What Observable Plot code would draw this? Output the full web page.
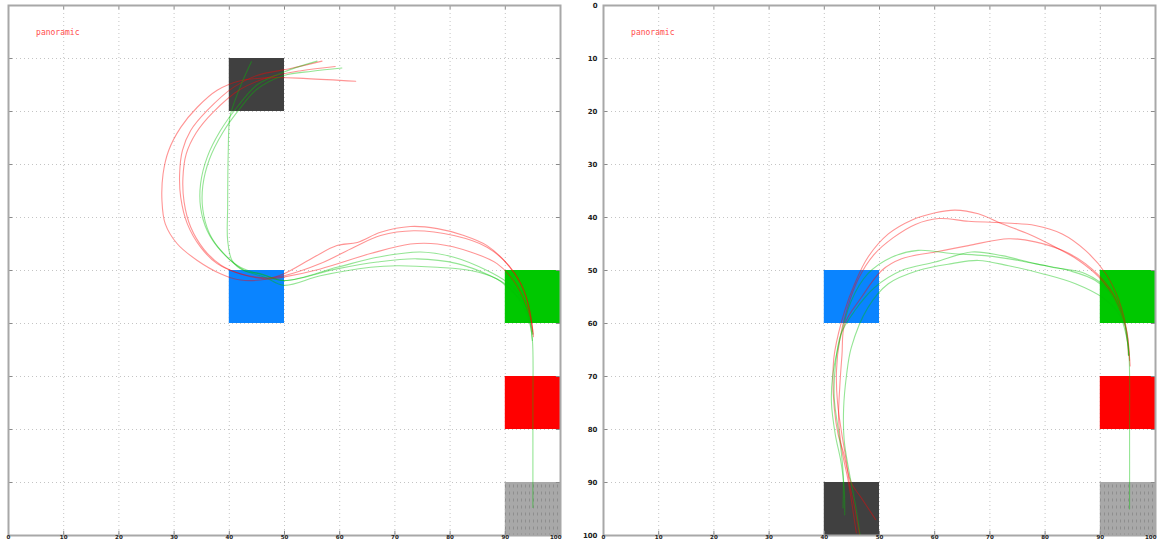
<!DOCTYPE html>
<html>
<head>
<meta charset="utf-8">
<script src="https://cdn.jsdelivr.net/npm/d3@7"></script>
<script src="https://cdn.jsdelivr.net/npm/@observablehq/plot@0.6"></script>
<style>
  html, body { margin: 0; padding: 0; background: #fff; overflow: hidden; width: 1157px; height: 542px; }
  .panel { position: absolute; top: 0; width: 600px; }
  .panel svg { max-width: none !important; }
</style>
</head>
<body>
<!-- shared fill pattern for the dotted grey goal zone -->
<svg width="0" height="0" style="position:absolute">
  <defs>
    <pattern id="zoneDots" width="4" height="7" patternUnits="userSpaceOnUse">
      <rect width="4" height="7" fill="#a8a8a8"></rect>
      <line x1="1.5" y1="1.5" x2="1.5" y2="4.5" stroke="#8e8e8e" stroke-width="1"></line>
    </pattern>
  </defs>
</svg>
<div id="left" class="panel" style="left:-32px"></div>
<div id="right" class="panel" style="left:563px"></div>
<script>
// axis ticks shared by both panels
const xTicks = [0, 10, 20, 30, 40, 50, 60, 70, 80, 90, 100];
const yTicks = [0, 10, 20, 30, 40, 50, 60, 70, 80, 90, 100];
const panelLabel = "panoramic";
const labelAt = [5, 5];

// zone colours by zone name
const zoneColors = {
  dark: "#404040",
  blue: "#0a84ff",
  green: "#00c800",
  red: "#ff0000",
  dotted: "url(#zoneDots)"
};

// zones in the left panel: [name, x1, x2, y1, y2]
const leftZones = [
  ["dark", 40, 50, 10, 20],
  ["blue", 40, 50, 50, 60],
  ["green", 90, 100, 50, 60],
  ["red", 90, 100, 70, 80],
  ["dotted", 90, 100, 90, 100]
];

// zones in the right panel
const rightZones = [
  ["dark", 40, 50, 90, 100],
  ["blue", 40, 50, 50, 60],
  ["green", 90, 100, 50, 60],
  ["red", 90, 100, 70, 80],
  ["dotted", 90, 100, 90, 100]
];

// left panel: red trajectories
const leftRed = [
  [[62.9,14.3],[54.1,13.8],[48.1,13.6],[42,14.2],[37.8,16],[34.2,19.2],[31.2,23],[29,27.4],[28,31.8],[27.8,36.8],[28.4,41.2],[30.6,45],[34.2,48.1],[38.4,50.6],[42,51.8],[46.9,51.6],[49.9,50.6],[55.3,47.5],[59.5,45.3],[63.2,44.7],[67.4,42.8],[72.8,41.7],[77.7,42.1],[82.5,43.4],[86.7,45.3],[90.3,48.7],[92.8,52.5],[94.3,56.9],[94.9,60.7],[95,62]],
  [[56.8,10.5],[51.1,11.9],[45,13.2],[40.8,15.4],[36,19.8],[33,23.6],[31.5,27.4],[31,31.8],[31.2,36.2],[32.4,41.2],[34.8,45.6],[37.8,48.7],[42,50.6],[46.9,51.4],[49.9,51],[56.5,48.7],[62.6,45.6],[67.4,43.4],[73.4,42.5],[80.7,43.4],[86.7,45.6],[90.9,49.4],[93.4,53.8],[94.6,58.8],[94.9,61.5]],
  [[59.2,11.5],[53,12.3],[47,13.6],[42,15.8],[37,20.2],[34,24],[32.2,28],[31.6,32.5],[31.8,37],[33,41.8],[35.4,46],[38.5,49],[42.5,50.8],[47,51.6],[50,51.2],[56.5,49.7],[65.6,46.8],[72.8,45],[77.7,45],[83.7,46.5],[88.5,48.7],[91.5,51.9],[93.7,56.3],[94.9,60.7],[95.1,62.5]]
];

// left panel: green trajectories
const leftGreen = [
  [[44,10.6],[42.3,14.5],[41,18],[40.1,21.1],[39.8,28],[39.7,38.1],[39.7,44.3],[40.5,48.1],[42.6,50],[45.7,50.6],[49.9,51.9],[59.5,49.4],[66.8,47.5],[74.6,46.5],[80.7,47.5],[86.7,50],[90.3,52.2],[92.8,55],[94.3,58.8],[94.9,63.2]],
  [[55.9,10.5],[50,12.5],[45,15],[41.4,19.2],[38.4,23.6],[36,28.6],[34.8,33.6],[34.8,38.1],[36,42.5],[38.4,46.2],[42,49.4],[46.3,50.9],[49.9,51.9],[59.5,49.7],[66.8,48.4],[74,47.8],[81.3,48.7],[87.3,51],[90.3,52.8],[92.8,56],[94.3,59.5],[94.9,63],[95,75],[95,85],[95,94.7]],
  [[60.4,11.8],[55,12.4],[49.9,13.2],[45,15.8],[41.8,19.6],[38.8,24],[36.4,29],[35.2,34],[35.2,38.5],[36.4,43],[38.8,46.6],[42.4,49.8],[46.5,51.3],[49.9,52.8],[56.5,51],[65.6,49.4],[70.4,49.1],[77.7,49.4],[83.7,50],[88.5,51.6],[90.3,53.1],[93.4,56.3],[94.6,60.1],[95,62]]
];

// right panel: red trajectories
const rightRed = [
  [[49.3,97],[46.7,92.9],[44.9,90.1],[43.4,84.1],[42.5,80.9],[41.8,75.9],[41.6,68.3],[41.9,65.2],[43.7,57.6],[45.5,52.5],[47.9,47.5],[51.6,43.1],[55.8,40.5],[60.1,39.1],[63.7,38.6],[67.9,39.3],[72.2,41.2],[77,43.1],[81.9,45.6],[86.1,48.1],[89.8,51.3],[92.8,55.7],[94.6,60.7],[95.2,65.2],[95.4,68]],
  [[46.4,99.9],[45.5,94.8],[44.6,90.4],[44,86],[43.2,81],[42.4,75],[42.2,69],[42.8,63],[44.2,57],[46.2,51.5],[49,47],[52.5,43.8],[56.5,41.3],[60.7,40.2],[66.1,40.7],[72.2,41],[78.2,41.5],[83.1,43.1],[87.3,46.2],[91,50.6],[93.4,55.7],[94.9,62],[95.3,67]],
  [[45.8,99.5],[45,94],[44.2,89],[43.2,84],[42.6,78],[42.8,72],[43.2,66],[43.7,60.1],[46.7,55.1],[50.4,50],[54,47.8],[60.1,46.5],[66.1,45.3],[73.4,44],[78.2,44.6],[83.1,46.2],[87.3,48.7],[91.6,53.2],[94,58.2],[94.9,63.3],[95.1,66]]
];

// right panel: green trajectories
const rightGreen = [
  [[43.7,96.1],[43.6,91],[43,86],[42,81],[41.3,75],[41.5,70],[42.5,64.5],[44.9,55.7],[47.9,50.6],[52.2,47.5],[57,46.2],[63.1,46.8],[69.1,47.2],[75.2,48.1],[81.3,49.4],[87.3,50.6],[91.6,53.8],[94,58.2],[94.9,63.3],[95.2,66]],
  [[43.4,94.8],[43.4,88],[42.8,82],[41.8,74],[42,68],[43,62],[45.5,57.6],[49.1,53.2],[54,50],[60.1,48.4],[66.7,46.5],[72.2,47.2],[78.2,48.7],[84.3,50],[89.1,51.9],[92.8,55.7],[94.6,60.7],[95.2,66],[95.3,80],[95.3,95]],
  [[46.5,100],[45.6,94],[44.5,88],[43.6,82],[43.5,76],[44,70],[44.9,64.5],[47.9,57],[51.6,52.5],[57,50],[63.1,48.7],[67.9,48.1],[73.4,49.1],[79.5,50.6],[85.5,52.5],[90.4,55.1],[93.4,58.2],[94.9,63.3],[95.1,66]]
];

const gridStyle = {stroke: "#c4c4c4", strokeOpacity: 1, strokeDasharray: "1,3", strokeWidth: 1};
const tickStyle = {stroke: "#8a8a8a", strokeWidth: 1};
const axisFont = {fontWeight: "bold", fill: "#222", fontFamily: "DejaVu Sans"};
const xLabelStyle = {anchor: "bottom", tickSize: 0, tickPadding: 0, label: null, fontSize: 5.5, ...axisFont};

function tracks(paths, color) {
  return paths.map(p => Plot.line(p, {
    x: d => d[0], y: d => d[1],
    stroke: color, strokeOpacity: 0.42, strokeWidth: 1.1,
    curve: "catmull-rom"
  }));
}

function panel(zones, reds, greens, showYLabels) {
  const inner = xTicks.filter(t => t > 0 && t < 100);
  const innerY = yTicks.filter(t => t > 0 && t < 100);
  const lastX = xTicks[xTicks.length - 1];
  return Plot.plot({
    width: 600,
    height: 555,
    marginLeft: 40,
    marginRight: 8,
    marginTop: 5,
    marginBottom: 20,
    style: {background: "transparent", overflow: "visible"},
    x: {domain: [0, 100], axis: null},
    y: {domain: [0, 100], reverse: true, axis: null},
    marks: [
      Plot.gridX(inner, gridStyle),
      Plot.gridY(innerY, gridStyle),
      Plot.rect(zones, {
        x1: d => d[1], x2: d => d[2], y1: d => d[3], y2: d => d[4],
        fill: d => zoneColors[d[0]]
      }),
      ...tracks(reds, "#ff0000"),
      ...tracks(greens, "#00c000"),
      // inward tick marks on all four sides
      Plot.ruleX(inner, {x: d => d, y1: 0, y2: 0.8, ...tickStyle}),
      Plot.ruleX(inner, {x: d => d, y1: 100, y2: 99.2, ...tickStyle}),
      Plot.ruleY(innerY, {y: d => d, x1: 0, x2: 0.75, ...tickStyle}),
      Plot.ruleY(innerY, {y: d => d, x1: 100, x2: 99.25, ...tickStyle}),
      Plot.frame({stroke: "#a8a8a8", strokeWidth: 2}),
      Plot.axisX({ticks: xTicks.slice(0, -1), ...xLabelStyle}),
      // the last label sits flush against the right edge of the frame
      Plot.axisX({ticks: [lastX], ...xLabelStyle, textAnchor: "end", dx: 1}),
      showYLabels
        ? Plot.axisY({anchor: "left", ticks: yTicks, tickSize: 0, tickPadding: 6, label: null, fontSize: 7, ...axisFont})
        : null,
      Plot.text([panelLabel], {
        x: () => labelAt[0], y: () => labelAt[1], text: d => d,
        textAnchor: "start", fill: "#ff4d4d", fontSize: 8,
        fontFamily: "DejaVu Sans Mono"
      })
    ]
  });
}

document.getElementById("left").append(panel(leftZones, leftRed, leftGreen, false));
document.getElementById("right").append(panel(rightZones, rightRed, rightGreen, true));
</script>
</body>
</html>
